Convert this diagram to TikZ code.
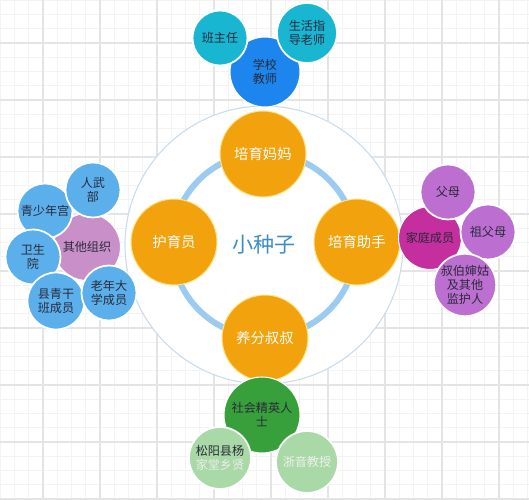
\documentclass[tikz,border=0pt]{standalone}
\usepackage{fontspec}
\setmainfont{Noto Sans CJK SC}
\definecolor{gridminor}{HTML}{F3F3F3}
\definecolor{gridmajor}{HTML}{E4E4E4}
\definecolor{seedorange}{HTML}{F2A20C}
\definecolor{seedrim}{HTML}{FFE38A}
\definecolor{ringblue}{HTML}{9CCBF2}
\definecolor{outerrim}{HTML}{C8DCEB}
\definecolor{seedtext}{HTML}{3C8DC5}
\definecolor{schoolblue}{HTML}{1C86EE}
\definecolor{schoolcyan}{HTML}{19B6D2}
\definecolor{orgpink}{HTML}{C98FC9}
\definecolor{orgblue}{HTML}{5BB0EC}
\definecolor{familymagenta}{HTML}{C52E9E}
\definecolor{familypurple}{HTML}{BC6FD1}
\definecolor{elitegreen}{HTML}{38A03A}
\definecolor{elitelight}{HTML}{A9D9A6}
\definecolor{darktext}{HTML}{2A2A3A}
\begin{document}
\begin{tikzpicture}[x=0.02cm,y=-0.02cm,
  bubble/.style={circle,inner sep=0pt,align=center,text=darktext,
    font=\fontsize{6.9}{8}\selectfont},
  parentbubble/.style={bubble,draw=white,line width=0.6pt},
  childbubble/.style={bubble,draw=white,line width=1pt},
  rolebubble/.style={circle,inner sep=0pt,align=center,fill=seedorange,
    draw=seedrim,line width=0.6pt,text=white,minimum size=3.44cm/2,
    font=\fontsize{8.2}{9.5}\selectfont}]
\useasboundingbox (0,0) rectangle (529,500);
% background grid
\fill[white] (0,0) rectangle (529,500);
\foreach \i in {0,...,37}
  \draw[gridminor,line width=0.4pt] ({0.25+\i*14.25},0) -- ({0.25+\i*14.25},500);
\foreach \i in {0,...,35}
  \draw[gridminor,line width=0.4pt] (0,{0.25+\i*14.25}) -- (529,{0.25+\i*14.25});
\foreach \i in {0,...,9}
  \draw[gridmajor,line width=0.6pt] ({43+\i*57},0) -- ({43+\i*57},500);
\foreach \i in {0,...,8}
  \draw[gridmajor,line width=0.6pt] (0,{43+\i*57}) -- (529,{43+\i*57});
% the seed circle
\node[circle,fill=white,draw=outerrim,line width=0.6pt,minimum size=5.56cm] (outer) at (264,245) {};
\draw[ringblue,line width=3.4pt] (264,245) circle[radius=1.84cm];
\node[text=seedtext,font=\fontsize{12}{14}\selectfont] (seed) at (264,245) {小种子};
\node[rolebubble] (mama) at (263,154) {培育妈妈};
\node[rolebubble] (huyu) at (174,242) {护育员};
\node[rolebubble] (zhushou) at (357,242) {培育助手};
\node[rolebubble] (shushu) at (265,338) {养分叔叔};
% school
\node[parentbubble,fill=schoolblue,minimum size=1.4cm] (school) at (265,72) {学校\\教师};
\node[childbubble,fill=schoolcyan,minimum size=1.1cm] (banzhuren) at (220,38) {班主任};
\node[childbubble,fill=schoolcyan,minimum size=1.2cm] (zhidao) at (307,33) {生活指\\导老师};
% other organisations
\node[parentbubble,fill=orgpink,minimum size=1.34cm] (org) at (87,247) {其他组织};
\node[childbubble,fill=orgblue,minimum size=1.1cm] (gong) at (45,211) {青少年宫};
\node[childbubble,fill=orgblue,minimum size=1.1cm] (renwu) at (93,190) {人武\\部};
\node[childbubble,fill=orgblue,minimum size=1.1cm] (weisheng) at (33,257) {卫生\\院};
\node[childbubble,fill=orgblue,minimum size=1.14cm] (qinggan) at (56,301) {县青干\\班成员};
\node[childbubble,fill=orgblue,minimum size=1.1cm] (laonian) at (109,293) {老年大\\学成员};
% family
\node[parentbubble,fill=familymagenta,minimum size=1.26cm] (family) at (430,238) {家庭成员};
\node[childbubble,fill=familypurple,minimum size=1.1cm] (fumu) at (448,192) {父母};
\node[childbubble,fill=familypurple,minimum size=1.1cm] (zufumu) at (488,232) {祖父母};
\node[childbubble,fill=familypurple,minimum size=1.16cm] (shubo) at (465,285) {叔伯婶姑\\及其他\\监护人};
% elites
\node[parentbubble,fill=elitegreen,minimum size=1.52cm] (elite) at (262,415) {社会精英人\\士};
\node[childbubble,fill=elitelight,minimum size=1.24cm] (xiangxian) at (220,458) {松阳县杨\\\textcolor{white!85!gray}{家堂乡贤}};
\node[childbubble,fill=elitelight,minimum size=1.24cm,text=white!88!gray] (jiaoshou) at (307,462) {浙音教授};
\end{tikzpicture}
\end{document}
